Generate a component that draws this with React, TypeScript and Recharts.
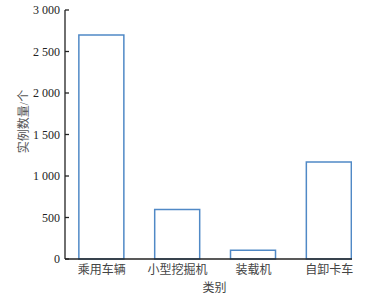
import React from 'react';
import { BarChart, Bar, XAxis, YAxis } from 'recharts';

const categories = ['乘用车辆', '小型挖掘机', '装载机', '自卸卡车'];
const counts = [2700, 595, 105, 1170];
const yTicks = [0, 500, 1000, 1500, 2000, 2500, 3000];

const data = categories.map((name, i) => ({ idx: i, name, count: counts[i] }));

const FONT = '"Liberation Serif", "Noto Sans CJK SC", serif';

function fmt(v: number) {
  return String(v).replace(/\B(?=(\d{3})+(?!\d))/g, ' ');
}

export default function App() {
  return (
    <div style={{ position: 'absolute', left: 0, top: 0, background: '#fff' }}>
      <BarChart
        width={378}
        height={299}
        data={data}
        margin={{ top: 10, right: 26, left: 0, bottom: 0 }}
      >
        <XAxis
          dataKey="idx"
          type="number"
          domain={[-0.485, 3.3]}
          allowDataOverflow
          ticks={[0, 1, 2, 3]}
          interval={0}
          tickFormatter={(i: number) => categories[i]}
          height={40}
          tickLine={false}
          tickSize={0}
          tickMargin={6}
          stroke="#222"
          strokeWidth={1.3}
          tick={{ fill: '#444', fontSize: 12, fontFamily: FONT }}
          label={{
            value: '类别',
            position: 'insideBottom',
            offset: 7,
            dx: 6,
            fill: '#444',
            fontSize: 12,
            fontFamily: FONT,
          }}
        />
        <YAxis
          domain={[0, 3000]}
          ticks={yTicks}
          interval={0}
          width={65}
          tickSize={-4}
          tickMargin={9}
          tickFormatter={fmt}
          stroke="#222"
          strokeWidth={1.3}
          tick={{ fill: '#222', fontSize: 12, fontFamily: FONT }}
          label={{
            value: '实例数量/个',
            angle: -90,
            position: 'insideLeft',
            offset: 24,
            dy: -13,
            fill: '#555',
            fontSize: 12,
            fontFamily: FONT,
            style: { textAnchor: 'middle' },
          }}
        />
        <Bar
          dataKey="count"
          barSize={45}
          fill="#fff"
          stroke="#5089c6"
          strokeWidth={1.5}
          isAnimationActive={false}
        />
      </BarChart>
    </div>
  );
}
